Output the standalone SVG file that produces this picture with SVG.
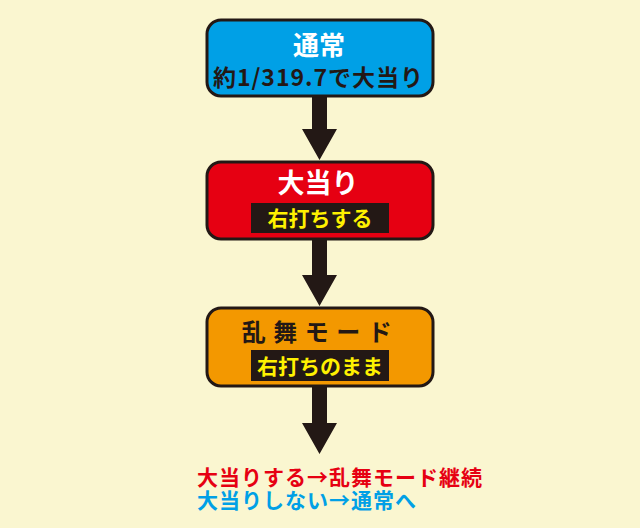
<svg xmlns="http://www.w3.org/2000/svg" width="640" height="528" viewBox="0 0 640 528">
<style>
.t{font-family:"Noto Sans CJK JP","Noto Sans",sans-serif;font-weight:bold;text-anchor:middle}
.box{stroke:#231815;stroke-width:3}
.lbl{fill:#231815}
.y{fill:#FFF100;font-size:21px}
.arr{fill:#231815}
.res{font-family:"Noto Sans CJK JP","Noto Sans",sans-serif;font-weight:bold;font-size:21px;letter-spacing:1px}
</style>
<rect x="0" y="0" width="640" height="528" fill="#FAF6D0"/>
<g id="connectors">
<path class="arr" d="M312 97 H327 V129 H337 L319.5 160 L302 129 H312 Z"/>
<path class="arr" d="M312 240 H327 V275 H337 L319.5 306 L302 275 H312 Z"/>
<path class="arr" d="M312 386 H327 V423 H337 L319.5 454 L302 423 H312 Z"/>
</g>
<g id="node-normal">
<rect class="box" x="207" y="20" width="226" height="76" rx="14" fill="#00A0E6"/>
<text class="t" x="319" y="55" font-size="26" fill="#FFFFFF">通常</text>
<text class="t" x="318.5" y="86" font-size="23" fill="#231815" letter-spacing="1">約1/319.7で大当り</text>
</g>
<g id="node-jackpot">
<rect class="box" x="207" y="162" width="226" height="77" rx="14" fill="#E60012"/>
<text class="t" x="318" y="193" font-size="27" fill="#FFFFFF">大当り</text>
<rect class="lbl" x="251" y="203" width="138" height="30"/>
<text class="t y" x="320" y="226">右打ちする</text>
</g>
<g id="node-ranbu">
<rect class="box" x="207" y="308" width="226" height="78" rx="14" fill="#F39800"/>
<text class="t" x="320.5" y="341" font-size="24" fill="#231815" letter-spacing="7.5">乱舞モード</text>
<rect class="lbl" x="251" y="350" width="138" height="31"/>
<text class="t y" x="320" y="374">右打ちのまま</text>
</g>
<g id="result">
<text class="res" x="197" y="484.5" fill="#E60012">大当りする→乱舞モード継続</text>
<text class="res" x="197" y="507.5" fill="#00A0E6">大当りしない→通常へ</text>
</g>
</svg>
